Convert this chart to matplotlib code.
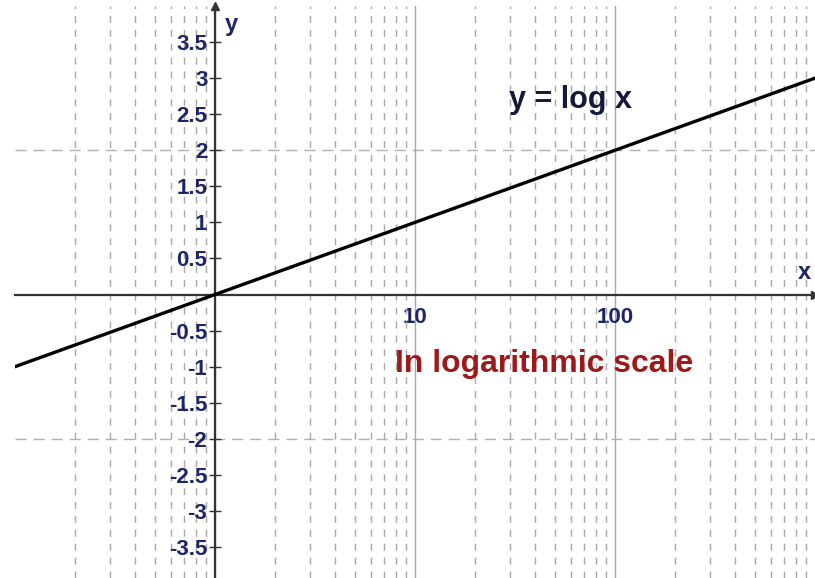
import numpy as np
import matplotlib.pyplot as plt
from matplotlib.ticker import LogLocator, FixedLocator, NullFormatter

plt.rcParams['font.family'] = ['Liberation Sans', 'DejaVu Sans']

# data: y = log x
xs = [0.1, 1, 10, 100, 1000]
ys = [-1, 0, 1, 2, 3]

ytick_vals = [-3.5, -3, -2.5, -2, -1.5, -1, -0.5, 0.5, 1, 1.5, 2, 2.5, 3, 3.5]
ytick_labels = ['-3.5', '-3', '-2.5', '-2', '-1.5', '-1', '-0.5',
                '0.5', '1', '1.5', '2', '2.5', '3', '3.5']
xtick_vals = [10, 100]
xtick_labels = ['10', '100']
ygrid_vals = [-2, 2]

navy = '#1d2566'
fig = plt.figure(figsize=(8.15, 5.78), dpi=100)
ax = fig.add_axes([15/815, 0, 800/815, 572/578])

ax.set_xscale('log')
ax.set_xlim(0.1, 1000)
ax.set_ylim(-3.93, 4.0)

# grid
ax.xaxis.set_minor_locator(LogLocator(base=10, subs=np.arange(2, 10)))
ax.xaxis.set_minor_formatter(NullFormatter())
ax.xaxis.set_major_locator(FixedLocator([1, 10, 100]))
ax.grid(which='major', axis='x', color='#a8a8a8', lw=1.0, ls='-')
ax.grid(which='minor', axis='x', color='#a8a8a8', lw=1.0, ls=(0, (5, 5)))
for g in ygrid_vals:
    ax.axhline(g, color='#b0b0b0', lw=1.0, ls=(0, (8, 5)), zorder=0)

ax.plot(xs, ys, color='black', lw=2.4, zorder=5)

# axes through origin
for s in ['top', 'right']:
    ax.spines[s].set_visible(False)
ax.spines['left'].set_position(('data', 1))
ax.spines['bottom'].set_position(('data', 0))
for s in ['left', 'bottom']:
    ax.spines[s].set_color('#333333')
    ax.spines[s].set_linewidth(1.6)
ax.plot(1, 1, '^', color='#333333', ms=6, transform=ax.get_xaxis_transform(), clip_on=False)
ax.plot(1, 0, '>', color='#333333', ms=6, transform=ax.get_yaxis_transform(), clip_on=False)

ax.set_yticks(ytick_vals)
ax.set_yticklabels(ytick_labels)
ax.tick_params(axis='y', direction='inout', length=9, width=1, color='#333333',
               labelcolor=navy, labelsize=16, pad=1)
for t in ax.get_yticklabels():
    t.set_fontweight('bold')

ax.set_xticks([1] + xtick_vals)
ax.set_xticklabels([''] + xtick_labels)
ax.tick_params(axis='x', which='major', length=0, labelcolor=navy, labelsize=16, pad=9)
ax.tick_params(axis='x', which='minor', length=0)
for t in ax.get_xticklabels():
    t.set_fontweight('bold')

ax.text(1.12, 3.75, 'y', color=navy, fontsize=17, fontweight='bold', va='center')
ax.text(890, 0.3, 'x', color=navy, fontsize=17, fontweight='bold', ha='center', va='center')

ax.text(60, 2.7, 'y = log x', color='#15193a', fontsize=22, fontweight='bold',
        ha='center', va='center')
ax.text(44, -0.97, 'In logarithmic scale', color='#9e1a1a', fontsize=23,
        fontweight='bold', ha='center', va='center')

fig.savefig('out.png', dpi=100)
